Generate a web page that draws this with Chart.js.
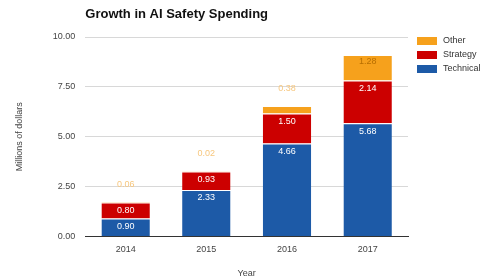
<!DOCTYPE html>
<html>
<head>
<meta charset="utf-8">
<script src="https://cdn.jsdelivr.net/npm/chart.js@4"></script>
<style>
    body { margin: 0; background: #fff; }
    #wrap { width: 489px; height: 279px; }
</style>
</head>
<body>
<div id="wrap"><canvas id="spendChart" width="489" height="279"></canvas></div>
<script>
const years = ["2014", "2015", "2016", "2017"];
const technical = [0.90, 2.33, 4.66, 5.68];
const strategy = [0.80, 0.93, 1.50, 2.14];
const other = [0.06, 0.02, 0.38, 1.28];
const yTicks = [0, 2.5, 5, 7.5, 10];
const chartTitle = "Growth in AI Safety Spending";

const FONT = "'Liberation Sans', Arial, sans-serif";

// value labels: inside the segment when it fits, above the bar otherwise
const valueLabels = {
    id: "valueLabels",
    afterDatasetsDraw(chart) {
        const ctx = chart.ctx;
        ctx.save();
        ctx.font = "9px " + FONT;
        ctx.textAlign = "center";
        ctx.textBaseline = "middle";
        chart.data.datasets.forEach((ds, i) => {
            const meta = chart.getDatasetMeta(i);
            meta.data.forEach((bar, j) => {
                const v = ds.data[j];
                const h = Math.abs(bar.base - bar.y);
                if (h >= 12) {
                    ctx.fillStyle = i === 2 ? "#b86f00" : "#ffffff";
                    ctx.fillText(v.toFixed(2), bar.x, i === 2 ? bar.y + 7 : bar.y + 8);
                } else {
                    ctx.fillStyle = "#f7c77e";
                    ctx.fillText(v.toFixed(2), bar.x, bar.y - 17);
                }
            });
        });
        ctx.restore();
    }
};

// title over the plot area and a legend to the right, top item = last dataset
const sideBits = {
    id: "sideBits",
    afterDraw(chart) {
        const ctx = chart.ctx;
        const area = chart.chartArea;
        ctx.save();
        ctx.font = "bold 13px " + FONT;
        ctx.fillStyle = "#111";
        ctx.textAlign = "left";
        ctx.textBaseline = "middle";
        ctx.fillText(chartTitle, area.left, 14);

        ctx.font = "9px " + FONT;
        const sets = chart.data.datasets.slice().reverse();
        sets.forEach((ds, k) => {
            const y = 41 + k * 14;
            ctx.fillStyle = ds.backgroundColor;
            ctx.fillRect(area.right + 9, y - 4, 20, 8);
            ctx.fillStyle = "#333";
            ctx.fillText(ds.label, area.right + 35, y);
        });
        ctx.restore();
    }
};

new Chart(document.getElementById("spendChart"), {
    type: "bar",
    data: {
        labels: years,
        datasets: [
            { label: "Technical", data: technical, backgroundColor: "#1d5aa7" },
            { label: "Strategy", data: strategy, backgroundColor: "#cc0000" },
            { label: "Other", data: other, backgroundColor: "#f6a11c" }
        ]
    },
    options: {
        responsive: false,
        animation: false,
        layout: { padding: { left: 10, right: 81, top: 37, bottom: 0 } },
        datasets: {
            bar: {
                barPercentage: 0.6,
                categoryPercentage: 1,
                borderColor: "#ffffff",
                borderWidth: { top: 1 },
                borderSkipped: false
            }
        },
        scales: {
            x: {
                stacked: true,
                grid: { display: false },
                border: { color: "#333" },
                ticks: { color: "#444", padding: 0, font: { size: 9, family: FONT } },
                title: { display: true, text: "Year", color: "#444", font: { size: 9, family: FONT }, padding: { top: 13, bottom: 0 } }
            },
            y: {
                stacked: true,
                min: 0,
                max: 10,
                afterBuildTicks: axis => { axis.ticks = yTicks.map(v => ({ value: v })); },
                grid: { color: "#d8d8d8", drawTicks: false },
                border: { display: false },
                ticks: {
                    color: "#444",
                    padding: 10,
                    font: { size: 9, family: FONT },
                    callback: v => v.toFixed(2)
                },
                title: { display: true, text: "Millions of dollars", color: "#444", font: { size: 9, family: FONT }, padding: { bottom: 18 } }
            }
        },
        plugins: {
            title: { display: false },
            legend: { display: false },
            tooltip: { enabled: false }
        }
    },
    plugins: [valueLabels, sideBits]
});
</script>
</body>
</html>
